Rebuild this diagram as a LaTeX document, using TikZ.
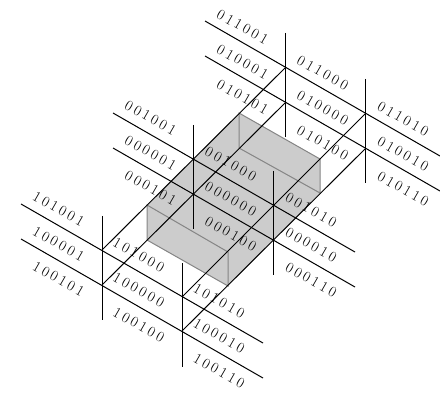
\documentclass[tikz,border=0pt]{standalone}
\usepackage{amsmath}
\usepackage{tikz}
\usetikzlibrary{positioning}
\newcommand{\bits}[6]{#1\kern3pt#2\kern3pt#3\kern3pt#4\kern3pt#5\kern3pt#6}
\newcommand{\bitlabel}[1]{\edef\bitstr{#1}\expandafter\bits\bitstr}
\tikzset{
  grid line/.style={line width=1pt,black},
  box line/.style={line width=1pt,black!48},
  code/.style={rotate=-30,inner sep=0pt,font=\fontsize{15}{15}\selectfont}
}

\begin{document}
\begin{tikzpicture}[x=1pt,y=-1pt]
\useasboundingbox (0,0) rectangle (440,396);
% box
\fill[black!20] (239,113) -- (320,159) -- (320,193) -- (228,286) -- (147,240) -- (147,205) -- cycle;
\draw[box line] (147,205) -- (228,252) -- (228,286) -- (147,240) -- cycle;
\draw[box line] (239,113) -- (320,159) -- (320,193) -- (239,148) -- cycle;
% long lines
\foreach \sx/\sy/\ex in {205/21/440,113/113/355,21/204/263}{
  \pgfmathsetmacro{\ey}{\sy+(\ex-\sx)*0.5745}
  \draw[grid line] (\sx,\sy) -- (\ex,\ey);
  \draw[grid line] (\sx,\sy+35) -- (\ex,\ey+35);
}
% verticals
\foreach \vx/\vy in {285/33,365/79,193/125,273/171,102/216,182/263}{
  \draw[grid line] (\vx,\vy) -- (\vx,\vy+104);
}
% cross lines
\draw[grid line] (102,250) -- (285,68);
\draw[grid line] (102,285) -- (285,103);
\draw[grid line] (182,297) -- (365,114);
\draw[grid line] (182,331) -- (365,149);
% labels
\foreach \ra/\i in {01/0,00/1,10/2}{
  \foreach \rc/\j in {01/0,00/1,10/2}{
    \foreach \rb/\k in {10/0,00/1,01/2}{
      \pgfmathsetmacro{\lx}{242.5-92*\i+80.3*\j}
      \pgfmathsetmacro{\ly}{27+91*\i+46*\j+35*\k}
      \node[code] (n\ra\rb\rc) at (\lx,\ly) {\bitlabel{\ra\rb\rc}};
    }
  }
}
\end{tikzpicture}
\end{document}
